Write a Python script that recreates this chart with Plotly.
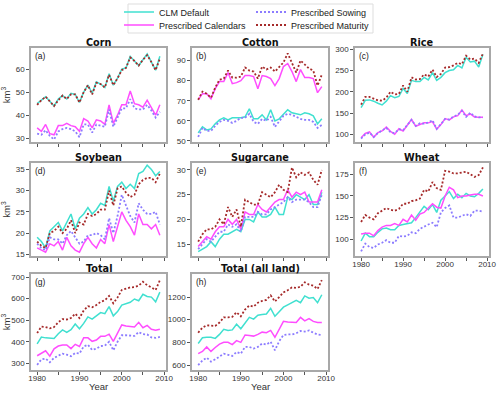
import plotly.graph_objects as go

W, H = 500, 395
years = list(range(1980, 2010))

series_names = ["CLM Default", "Prescribed Calendars", "Prescribed Sowing", "Prescribed Maturity"]

# ---- data (km3), 1980-2009 ----
corn_clm = [45, 46.5, 48, 46, 44, 47, 48.5, 47, 49.5, 49, 45.5, 50, 53, 49.5, 54.5, 53.5, 52, 58, 53, 56, 60, 60.5, 65.5, 63.5, 61.5, 64, 66.5, 63, 59.5, 65.5]
corn_cal = [34.5, 33, 36, 32, 31.5, 35.5, 35.5, 36.5, 35.5, 35, 33, 38.5, 37.5, 34.5, 38, 37.5, 36, 44.5, 36.5, 40, 44.5, 44.5, 50.5, 45, 44.5, 43.5, 46.5, 43, 40, 44.5]
corn_sow = [32, 31.5, 33.5, 31, 29.5, 33, 34, 34.5, 34, 33, 30.5, 36, 36, 32.5, 36, 35.5, 35, 42.5, 35, 39, 43, 43, 47, 43, 42.5, 42.5, 44.5, 42, 39, 41.5]
corn_mat = [44.5, 46.5, 48, 46, 44, 46.5, 48.5, 47, 49, 49, 45.5, 50, 53, 49, 54, 53.5, 52, 57.5, 53, 56, 59.5, 60.5, 65, 63.5, 61.5, 64, 66, 63, 59.5, 64.5]

cotton_clm = [54, 57, 55.5, 56, 58.5, 60.5, 61.5, 60.5, 61.5, 61.5, 61.5, 62, 66, 61, 61, 63, 60.5, 65.5, 60, 61, 63, 65.5, 64, 63.5, 63, 64, 63.5, 62.5, 58.5, 61]
cotton_cal = [70.5, 73.5, 73.5, 71, 76, 79.5, 79.5, 84, 78.5, 79, 80, 82.5, 82.5, 82, 76, 82.5, 82, 81, 77.5, 81, 87, 88.5, 84.5, 79.5, 85.5, 81.5, 81.5, 81, 74, 77]
cotton_sow = [52, 56.5, 55, 55, 57.5, 59.5, 60.5, 60, 59, 60, 61.5, 61.5, 63.5, 59.5, 58.5, 61, 60, 62, 57, 60, 62.5, 63.5, 63, 62, 61, 60.5, 60.5, 59.5, 56.5, 58]
cotton_mat = [70.5, 74.5, 73.5, 71.5, 76.5, 80.5, 81, 85, 81.5, 81.5, 82, 86.5, 85, 84.5, 81, 87, 85.5, 86.5, 84.5, 87, 89, 93.5, 89, 84, 90, 88, 86, 85, 77.5, 83]

rice_clm = [163, 180, 181, 178, 173, 169, 178, 191, 186, 189, 208, 196, 227, 224, 224, 234, 228, 245, 227, 234, 245, 250, 252, 262, 256, 281, 270, 272, 258, 288]
rice_cal = [92, 102, 106, 93, 104, 108, 117, 107, 100, 113, 108, 121, 135, 119, 124, 127, 127, 130, 112, 123, 137, 134, 141, 144, 157, 144, 148, 141, 140, 140]
rice_sow = [90, 100, 104, 94, 103, 110, 115, 105, 103, 112, 110, 122, 134, 120, 126, 125, 128, 133, 113, 124, 136, 135, 142, 146, 155, 141, 151, 142, 140, 140]
rice_mat = [170, 188, 188, 184, 180, 179, 186, 200, 194, 195, 215, 200, 234, 229, 230, 241, 236, 252, 235, 242, 257, 258, 262, 268, 265, 285, 276, 278, 268, 290]

soy_clm = [19, 18, 16.5, 20.5, 21.5, 22.5, 20.5, 22.5, 24.5, 21, 23.5, 24.5, 26, 24.5, 25.5, 27, 26.5, 31, 27.5, 31, 32, 30.5, 31.5, 30.5, 34, 34.5, 36, 35, 33.5, 34.5]
soy_cal = [16.5, 16, 15.5, 17.5, 17, 18, 16, 19, 17, 16, 15.5, 17.5, 19, 17.5, 16.5, 18.5, 17.5, 22, 18, 21.5, 25, 23, 21.5, 19.5, 24.5, 22, 22, 21, 22, 19.5]
soy_sow = [17.5, 16.5, 16, 19, 18.5, 18.5, 17.5, 19.5, 20.5, 19, 17.5, 18, 19.5, 19.5, 20, 19.5, 18.5, 23.5, 20, 24, 29, 26.5, 24, 22.5, 27, 25.5, 24.5, 24.5, 25, 22]
soy_mat = [18, 17, 16.5, 20, 20.5, 21.5, 20, 21, 23, 20, 22.5, 22, 24.5, 24, 24.5, 25.5, 25.5, 30, 26.5, 30.5, 31, 29.5, 28.5, 29, 31.5, 32.5, 33, 33, 32, 34]

sugar_clm = [13.5, 14, 14.5, 15.5, 14.5, 16, 17, 17, 17.5, 18, 17.5, 20, 20, 19.5, 21.5, 20.5, 20.5, 21, 22.5, 21, 21, 24.5, 24, 25, 24.5, 24, 25, 23, 23, 25.5]
sugar_cal = [14.5, 15.5, 16.5, 16, 17.5, 18.5, 18.5, 20, 19, 20, 18, 21.5, 21, 21, 23, 22, 21.5, 22.5, 23.5, 24, 24, 26, 24.5, 25.5, 25, 25.5, 23.5, 23.5, 23.5, 26]
sugar_sow = [14, 15, 16, 15.5, 16.5, 17.5, 17.5, 19, 18.5, 19, 17.5, 20.5, 20.5, 20.5, 21.5, 21, 21, 22, 22.5, 23, 23.5, 24.5, 23.5, 24, 24, 24, 23.5, 22.5, 22.5, 25]
sugar_mat = [15.5, 17, 18, 18, 18.5, 20, 19, 22.5, 20.5, 22, 18.5, 24, 23.5, 23, 23, 25.5, 25, 24.5, 25.5, 27, 26, 25.5, 30.5, 28.5, 29.5, 29, 29.5, 28, 27, 30]

wheat_clm = [98, 107, 103, 103, 108, 112, 113, 111, 111, 116, 117, 118, 119, 125, 131, 138, 134, 140, 131, 145, 150, 155, 147, 152, 148, 153, 150, 149, 153, 158]
wheat_cal = [106, 107, 107, 104, 110, 114, 116, 116, 118, 116, 123, 120, 128, 122, 129, 131, 136, 141, 137, 136, 150, 160, 157, 148, 150, 150, 151, 152, 152, 150]
wheat_sow = [86, 95, 91, 90, 94, 96, 99, 96, 96, 104, 103, 104, 108, 107, 112, 115, 117, 119, 114, 131, 136, 139, 125, 125, 127, 129, 127, 133, 133, 132]
wheat_mat = [120, 128, 125, 123, 130, 133, 136, 134, 133, 135, 141, 141, 144, 145, 147, 157, 155, 166, 159, 157, 179, 178, 176, 176, 177, 178, 175, 172, 174, 183]

total_clm = [390, 422, 418, 417, 415, 437, 455, 443, 456, 482, 460, 485, 515, 505, 520, 535, 530, 563, 520, 540, 570, 577, 583, 598, 590, 620, 610, 607, 585, 630]
total_cal = [335, 347, 358, 333, 367, 380, 385, 385, 368, 388, 378, 418, 418, 402, 408, 425, 425, 435, 402, 440, 478, 473, 472, 468, 490, 465, 476, 458, 453, 458]
total_sow = [293, 318, 322, 305, 325, 335, 345, 340, 333, 348, 345, 378, 386, 362, 368, 380, 382, 400, 360, 400, 430, 430, 430, 427, 445, 435, 434, 420, 418, 422]
total_mat = [440, 470, 468, 462, 468, 490, 505, 503, 510, 530, 510, 545, 565, 560, 570, 585, 592, 612, 578, 605, 640, 647, 652, 653, 660, 678, 662, 652, 640, 685]

all_clm = [790, 840, 845, 845, 835, 870, 915, 905, 910, 960, 920, 970, 1020, 1005, 1040, 1045, 1050, 1100, 1030, 1070, 1110, 1130, 1150, 1170, 1150, 1210, 1190, 1195, 1150, 1220]
all_cal = [700, 720, 760, 720, 755, 785, 800, 800, 780, 815, 800, 865, 860, 855, 870, 890, 885, 905, 845, 920, 985, 980, 980, 975, 1020, 990, 1010, 985, 975, 975]
all_sow = [600, 640, 665, 630, 650, 675, 700, 690, 680, 715, 700, 760, 760, 745, 760, 790, 780, 805, 730, 810, 865, 870, 870, 880, 900, 895, 905, 885, 870, 865]
all_mat = [885, 930, 950, 945, 945, 975, 1020, 1020, 1025, 1065, 1030, 1090, 1125, 1115, 1150, 1165, 1175, 1215, 1160, 1200, 1240, 1260, 1285, 1280, 1290, 1330, 1310, 1300, 1270, 1350]

panel_titles = ["Corn", "Cotton", "Rice", "Soybean", "Sugarcane", "Wheat", "Total", "Total (all land)"]
panel_letters = ["(a)", "(b)", "(c)", "(d)", "(e)", "(f)", "(g)", "(h)"]
panel_data = [
    (corn_clm, corn_cal, corn_sow, corn_mat),
    (cotton_clm, cotton_cal, cotton_sow, cotton_mat),
    (rice_clm, rice_cal, rice_sow, rice_mat),
    (soy_clm, soy_cal, soy_sow, soy_mat),
    (sugar_clm, sugar_cal, sugar_sow, sugar_mat),
    (wheat_clm, wheat_cal, wheat_sow, wheat_mat),
    (total_clm, total_cal, total_sow, total_mat),
    (all_clm, all_cal, all_sow, all_mat),
]
y_ticks = [
    [30, 40, 50, 60],
    [50, 60, 70, 80, 90],
    [100, 150, 200, 250, 300],
    [15, 20, 25, 30, 35],
    [15, 20, 25, 30],
    [100, 125, 150, 175],
    [300, 400, 500, 600, 700],
    [600, 800, 1000, 1200],
]
y_ranges = [
    [28.4, 69.1], [49.5, 96.2], [82, 303], [14.6, 36.5],
    [12.6, 31.4], [80.7, 188], [269, 714], [556, 1403],
]
x_major = [1980, 1990, 2000, 2010]
x_minor = [1985, 1995, 2005]

# ---- styling ----
colors = ["#40E0D0", "#FF4DFF", "#8C7CFF", "#A52A2A"]
dashes = ["solid", "solid", "2px,2px", "2px,2px"]
widths = [1.5, 1.5, 1.8, 1.8]
# two one-row legends: row 1 = CLM Default / Prescribed Sowing, row 2 = Calendars / Maturity
legend_of = ["legend", "legend2", "legend", "legend2"]

cols_px = [(31, 166), (192, 328), (355, 489)]
rows_px = [(48, 142), (163, 256), (274, 370)]
positions = [(0, 0), (0, 1), (0, 2), (1, 0), (1, 1), (1, 2), (2, 0), (2, 1)]
show_xlabels = [False, False, False, False, False, True, True, True]
show_xtitle = [False, False, False, False, False, False, True, True]

fig = go.Figure()
annotations = []
layout = {}
for i, (r, c) in enumerate(positions):
    n = i + 1
    xa = "x" if n == 1 else f"x{n}"
    ya = "y" if n == 1 else f"y{n}"
    for s in range(4):
        fig.add_trace(go.Scatter(
            x=years, y=panel_data[i][s], mode="lines", name=series_names[s],
            line=dict(color=colors[s], width=widths[s], dash=dashes[s]),
            xaxis=xa, yaxis=ya, showlegend=(i == 0), legend=legend_of[s],
        ))
    x0, x1 = cols_px[c]
    y0, y1 = rows_px[r]
    axcommon = dict(showline=True, mirror=True, linecolor="#A8A8A8", linewidth=1.5,
                    ticks="outside", ticklen=3, tickcolor="#555", tickwidth=1,
                    showgrid=False, zeroline=False, tickfont=dict(size=8, color="#333"))
    layout[f"xaxis{n}"] = dict(domain=[x0 / W, x1 / W], anchor=ya, range=[1978.55, 2010.45],
                               tickvals=x_major, showticklabels=show_xlabels[i],
                               ticklabelstandoff=-3,
                               minor=dict(tickvals=x_minor, ticks="outside", ticklen=3,
                                          tickcolor="#555", tickwidth=1, showgrid=False),
                               **axcommon)
    layout[f"yaxis{n}"] = dict(domain=[1 - y1 / H, 1 - y0 / H], anchor=xa, range=y_ranges[i],
                               tickvals=y_ticks[i], **axcommon)
    if c == 0:
        layout[f"yaxis{n}"]["title"] = dict(text="km<sup>3</sup>", font=dict(size=9.5, color="#333"),
                                            standoff=5)
    if show_xtitle[i]:
        annotations.append(dict(text="Year", xref="paper", yref="paper",
                                x=(x0 + x1) / 2 / W, y=1 - 386 / H, xanchor="center", yanchor="middle",
                                showarrow=False, font=dict(size=9.5, color="#333")))
    annotations.append(dict(text="<b>" + panel_titles[i] + "</b>", xref="paper", yref="paper",
                            x=(x0 + x1) / 2 / W, y=1 - (y0 + 2) / H, xanchor="center", yanchor="bottom",
                            showarrow=False, font=dict(family="DejaVu Sans", size=9.7, color="#111")))
    annotations.append(dict(text=panel_letters[i], xref="paper", yref="paper",
                            x=(x0 + 2) / W, y=1 - (y0 + 1) / H, xanchor="left", yanchor="top",
                            showarrow=False, font=dict(size=8.5, color="#222")))

legend_common = dict(orientation="h", xanchor="left", yanchor="middle",
                     font=dict(size=9, color="#222"), bgcolor="rgba(0,0,0,0)",
                     entrywidth=87, entrywidthmode="pixels", itemwidth=30)
fig.update_layout(
    width=W, height=H, margin=dict(l=0, r=0, t=0, b=0, autoexpand=False),
    paper_bgcolor="white", plot_bgcolor="white",
    font=dict(family="Liberation Sans, Arial, sans-serif", size=8, color="#333"),
    legend=dict(x=119 / W, y=1 - 12 / H, **legend_common),
    legend2=dict(x=119 / W, y=1 - 25 / H, **legend_common),
    annotations=annotations,
    shapes=[dict(type="rect", xref="paper", yref="paper", x0=128 / W, x1=373 / W,
                 y0=1 - 33 / H, y1=1 - 4 / H, line=dict(color="#DDDDDD", width=1))],
    **layout,
)

fig.write_html("out.html", config={"displayModeBar": False},
               post_script="document.body.style.margin='0';document.body.style.overflow='hidden';")
